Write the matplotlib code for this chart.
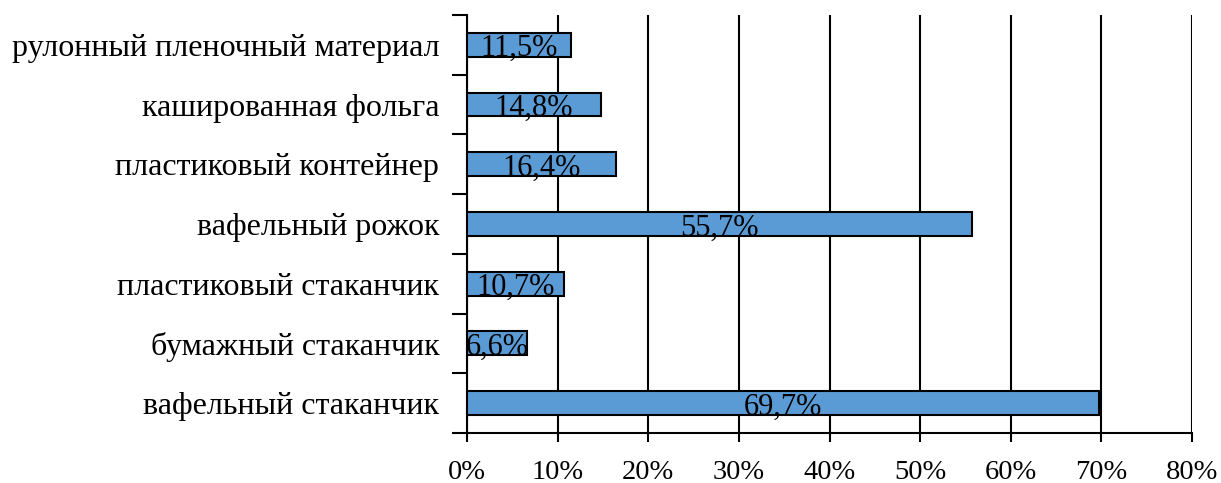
import matplotlib.pyplot as plt
import numpy as np

# packaging types, bottom to top
categories = ["вафельный стаканчик", "бумажный стаканчик", "пластиковый стаканчик",
              "вафельный рожок", "пластиковый контейнер", "кашированная фольга",
              "рулонный пленочный материал"]
values = [69.7, 6.6, 10.7, 55.7, 16.4, 14.8, 11.5]
xticks = [0, 10, 20, 30, 40, 50, 60, 70, 80]

plt.rcParams['font.family'] = ['Liberation Serif', 'DejaVu Serif']

fig = plt.figure(figsize=(12.21, 4.83), dpi=100)
ax = fig.add_axes([0.3825, 0.1035, 0.5938, 0.8655])

y = np.arange(len(categories))
ax.barh(y, values, height=0.4, color="#5B9BD5", edgecolor="black", linewidth=1.5, zorder=3)

for yi, v in zip(y, values):
    ax.text(v / 2, yi - 0.19, f"{v:.1f}%".replace(".", ","), ha="center", va="baseline",
            fontsize=22, zorder=4)

ax.set_xlim(0, 80)
ax.set_ylim(-0.5, len(categories) - 0.5)
ax.set_xticks(xticks)
ax.set_xticklabels([f"{t}%" for t in xticks], fontsize=20.5)
ax.set_yticks(y)
ax.set_yticklabels(categories, fontsize=23)
ax.tick_params(axis="y", which="major", length=0, pad=20)
ax.set_yticks(np.arange(-0.5, len(categories)), minor=True)
ax.tick_params(axis="y", which="minor", length=11, width=1.5, direction="out")
ax.tick_params(axis="x", length=6.5, width=1.5, direction="out", pad=13)

ax.grid(axis="x", color="black", linewidth=1.5, zorder=0)
ax.set_axisbelow(True)
for s in ["top", "right"]:
    ax.spines[s].set_visible(False)
for s in ["left", "bottom"]:
    ax.spines[s].set_linewidth(1.5)

fig.savefig("out.png", dpi=100)
